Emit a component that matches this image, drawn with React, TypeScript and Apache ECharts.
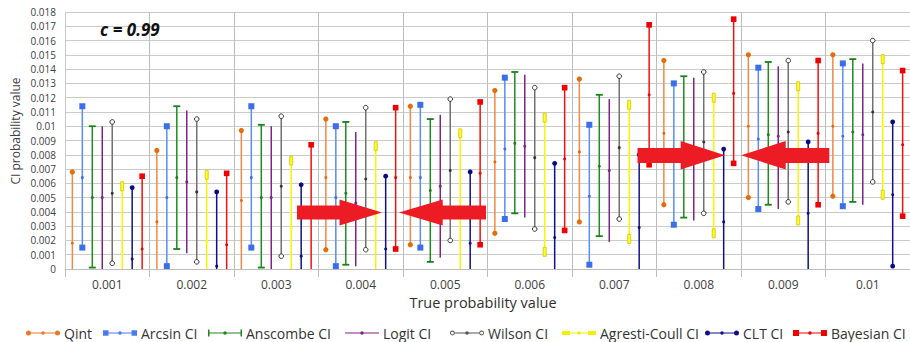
import React, { useEffect, useRef } from 'react';
import * as echarts from 'echarts';

// True probability values (x categories)
const categories = ['0.001', '0.002', '0.003', '0.004', '0.005', '0.006', '0.007', '0.008', '0.009', '0.01'];

// Each entry: [lower, estimate, upper]; null lower = interval extends below 0 (clipped at axis)
type Tri = [number | null, number, number];

const qint: Tri[] = [
  [null, 0.0018, 0.0068], [null, 0.0033, 0.0083], [null, 0.0048, 0.0097], [0.00135, 0.0064, 0.0105], [0.0017, 0.0064, 0.0114],
  [0.0025, 0.0075, 0.0125], [0.0033, 0.0082, 0.0133], [0.0045, 0.0095, 0.0146], [0.005, 0.01, 0.015], [0.0051, 0.01, 0.015],
];
const arcsin: Tri[] = [
  [0.0015, 0.0064, 0.0114], [0.0002, 0.005, 0.01], [0.0015, 0.0064, 0.0114], [0.0002, 0.005, 0.01], [0.0015, 0.0064, 0.0115],
  [0.0035, 0.0084, 0.0134], [0.0003, 0.0051, 0.0101], [0.0031, 0.008, 0.013], [0.0042, 0.0091, 0.0141], [0.0044, 0.0093, 0.0144],
];
const anscombe: Tri[] = [
  [0.0001, 0.005, 0.01], [0.0014, 0.0064, 0.0114], [0.0001, 0.005, 0.0101], [0.0003, 0.0053, 0.0103], [0.0005, 0.0055, 0.0105],
  [0.0039, 0.0088, 0.0138], [0.0023, 0.0072, 0.0122], [0.0036, 0.0086, 0.0135], [0.0045, 0.0094, 0.0145], [0.0047, 0.0096, 0.0147],
];
const logit: Tri[] = [
  [null, 0.005, 0.01], [0.0011, 0.0061, 0.0111], [null, 0.005, 0.01], [0.0002, 0.0046, 0.0096], [0.0008, 0.0058, 0.0108],
  [0.0036, 0.0086, 0.0136], [0.0019, 0.0069, 0.0119], [0.0034, 0.0084, 0.0134], [0.0042, 0.0093, 0.0142], [0.0045, 0.0094, 0.0144],
];
const wilson: Tri[] = [
  [0.0004, 0.0053, 0.0103], [0.0005, 0.0054, 0.0105], [0.0009, 0.0058, 0.0107], [0.00135, 0.0063, 0.0113], [0.002, 0.0069, 0.0119],
  [0.0028, 0.0078, 0.0127], [0.0035, 0.0085, 0.0135], [0.0039, 0.0089, 0.0138], [0.0047, 0.0096, 0.0146], [0.0061, 0.011, 0.016],
];
const agresti: Tri[] = [
  [null, 0.0011, 0.0058], [null, 0.0019, 0.0066], [null, 0.0028, 0.0076], [null, 0.0037, 0.0086], [null, 0.0048, 0.0095],
  [0.0012, 0.0059, 0.0106], [0.0021, 0.0068, 0.0115], [0.0025, 0.0073, 0.012], [0.0034, 0.0081, 0.0128], [0.0052, 0.01, 0.0147],
];
const clt: Tri[] = [
  [null, 0.0007, 0.0057], [null, 0.0002, 0.0054], [null, 0.0009, 0.0059], [null, 0.0014, 0.0065], [null, 0.0018, 0.0068],
  [null, 0.0022, 0.0074], [null, 0.0029, 0.008], [null, 0.0033, 0.0084], [null, 0.0039, 0.0089], [0.0002, 0.0052, 0.0103],
];
const bayesian: Tri[] = [
  [null, 0.0014, 0.0065], [null, 0.0017, 0.0067], [null, 0.0037, 0.0087], [0.0014, 0.0064, 0.0113], [0.0017, 0.0067, 0.0117],
  [0.0027, 0.0077, 0.0127], [0.0073, 0.0122, 0.0171], [0.0074, 0.0123, 0.0175], [0.0045, 0.0095, 0.0146], [0.0037, 0.0087, 0.0139],
];

const seriesNames = ['Qint', 'Arcsin CI', 'Anscombe CI', 'Logit CI', 'Wilson CI', 'Agresti-Coull CI', 'CLT CI', 'Bayesian CI'];
const seriesData = [qint, arcsin, anscombe, logit, wilson, agresti, clt, bayesian];

type Marker = 'circle' | 'square' | 'cap' | 'none' | 'hollow' | 'bar';
interface Sty { line: string; mark: string; marker: Marker; size: number; legendIcon: string; legendColor: string; }

const FONT = '"Open Sans", "Noto Sans", sans-serif';

// legend icon path helpers (34 x 8 box)
const circ = (cx: number, cy: number, r: number, sweep = 1) =>
  `M${cx - r} ${cy}A${r} ${r} 0 1 ${sweep} ${cx + r} ${cy}A${r} ${r} 0 1 ${sweep} ${cx - r} ${cy}Z`;
const rct = (x: number, y: number, w: number, h: number) => `M${x} ${y}L${x + w} ${y}L${x + w} ${y + h}L${x} ${y + h}Z`;
const lineSeg = (x0: number, x1: number) => rct(x0, 3.4, x1 - x0, 1.2);
const midDot = circ(17, 4, 1.8);

const icons = [
  'path://' + lineSeg(2, 32) + circ(2.5, 4, 2.5) + circ(31.5, 4, 2.5) + midDot,
  'path://' + lineSeg(2, 32) + rct(0, 1.25, 5.5, 5.5) + rct(28.5, 1.25, 5.5, 5.5) + midDot,
  'path://' + lineSeg(0, 34) + rct(0, 0.5, 1.5, 7) + rct(32.5, 0.5, 1.5, 7) + midDot,
  'path://' + lineSeg(0, 34) + midDot,
  'path://' + lineSeg(4.6, 29.4) + circ(2.4, 4, 2.4) + circ(2.4, 4, 1.5, 0) + circ(31.6, 4, 2.4) + circ(31.6, 4, 1.5, 0) + midDot,
  'path://' + lineSeg(4, 30) + rct(0, 2, 8, 4) + rct(26, 2, 8, 4) + midDot,
  'path://' + lineSeg(2, 32) + circ(2.5, 4, 2.5) + circ(31.5, 4, 2.5) + midDot,
  'path://' + lineSeg(2, 32) + rct(0, 1, 6, 6) + rct(28, 1, 6, 6) + midDot,
];

const styles: Sty[] = [
  { line: '#EE8A45', mark: '#E46C0A', marker: 'circle', size: 2.6, legendIcon: icons[0], legendColor: '#E8782A' },
  { line: '#5A8CF2', mark: '#3A6EEB', marker: 'square', size: 6, legendIcon: icons[1], legendColor: '#4A7CEE' },
  { line: '#208A20', mark: '#1A801A', marker: 'cap', size: 7, legendIcon: icons[2], legendColor: '#1E861E' },
  { line: '#7E2286', mark: '#7E2286', marker: 'none', size: 0, legendIcon: icons[3], legendColor: '#7E2286' },
  { line: '#707070', mark: '#333333', marker: 'hollow', size: 2.3, legendIcon: icons[4], legendColor: '#555555' },
  { line: '#F6F600', mark: '#FFFF20', marker: 'bar', size: 9, legendIcon: icons[5], legendColor: '#F2F000' },
  { line: '#10108C', mark: '#0A0A88', marker: 'circle', size: 2.4, legendIcon: icons[6], legendColor: '#10108C' },
  { line: '#F21010', mark: '#F00000', marker: 'square', size: 5.6, legendIcon: icons[7], legendColor: '#F00000' },
];

const legendLeft = [26, 103, 208, 345, 450, 562, 705, 793];

function endMarker(st: Sty, x: number, y: number): any {
  switch (st.marker) {
    case 'circle':
      return { type: 'circle', shape: { cx: x, cy: y, r: st.size }, style: { fill: st.mark } };
    case 'square':
      return { type: 'rect', shape: { x: x - st.size / 2, y: y - st.size / 2, width: st.size, height: st.size }, style: { fill: st.mark } };
    case 'cap':
      return { type: 'line', shape: { x1: x - st.size / 2, y1: y, x2: x + st.size / 2, y2: y }, style: { stroke: st.mark, lineWidth: 1.8 } };
    case 'hollow':
      return { type: 'circle', shape: { cx: x, cy: y, r: st.size }, style: { fill: '#ffffff', stroke: st.mark, lineWidth: 1 } };
    case 'bar':
      return { type: 'rect', shape: { x: x - 1.5, y: y - st.size / 2, width: 3, height: st.size }, style: { fill: st.mark, stroke: '#D6C400', lineWidth: 0.8 } };
    default:
      return null;
  }
}

function makeRender(j: number) {
  const st = styles[j];
  return (params: any, api: any) => {
    const ci = api.value(0);
    const lo = api.value(1);
    const mid = api.value(2);
    const up = api.value(3);
    const bw = api.size([1, 0])[0];
    const base = api.coord([ci, 0]);
    const x = base[0] + (j - 3.5) * bw * 0.118;
    const y0 = base[1];
    const hasLo = lo !== null && lo !== undefined && !isNaN(lo);
    const yLo = hasLo ? api.coord([ci, lo])[1] : y0;
    const yMid = api.coord([ci, mid])[1];
    const yUp = api.coord([ci, up])[1];
    const children: any[] = [
      { type: 'line', shape: { x1: x, y1: yLo, x2: x, y2: yUp }, style: { stroke: st.line, lineWidth: 1.5 } },
    ];
    const mu = endMarker(st, x, yUp);
    if (mu) children.push(mu);
    if (hasLo) {
      const ml = endMarker(st, x, yLo);
      if (ml) children.push(ml);
    }
    children.push({ type: 'circle', shape: { cx: x, cy: yMid, r: 1.5 }, style: { fill: st.mark } });
    return { type: 'group', children };
  };
}

function arrow(pts: number[][]) {
  return { type: 'polygon', z: 100, shape: { points: pts }, style: { fill: '#ED1C24' } };
}

export default function App() {
  const ref = useRef<HTMLDivElement>(null);
  useEffect(() => {
    if (!ref.current) return;
    const chart = echarts.init(ref.current, undefined, { renderer: 'svg' });
    const series = seriesNames.map((name, j) => ({
      type: 'custom',
      name,
      renderItem: makeRender(j),
      encode: { x: 0, y: [1, 2, 3] },
      itemStyle: { color: styles[j].legendColor },
      data: seriesData[j].map((t, i) => [i, t[0] === null ? '-' : t[0], t[1], t[2]]),
      clip: true,
    }));
    const legends = seriesNames.map((name, j) => ({
      data: [{ name, icon: styles[j].legendIcon }],
      left: legendLeft[j],
      top: 326,
      padding: 0,
      itemWidth: 34,
      itemHeight: 8,
      selectedMode: false,
      textStyle: { fontFamily: FONT, fontSize: 14, color: '#333333', padding: [0, 0, 0, -1] },
    }));
    chart.setOption({
      animation: false,
      backgroundColor: '#ffffff',
      grid: { left: 65, right: -3, top: 12, bottom: 73 },
      legend: legends,
      xAxis: {
        type: 'category',
        data: categories,
        boundaryGap: true,
        axisLine: { show: true, lineStyle: { color: '#BDBDBD', width: 1 } },
        axisTick: { show: true, interval: 0, length: 8, lineStyle: { color: '#BDBDBD' } },
        splitLine: { show: true, interval: 0, lineStyle: { color: '#BDBDBD', width: 1 } },
        axisLabel: { fontFamily: FONT, fontSize: 12, color: '#404040', margin: 9 },
      },
      yAxis: {
        type: 'value',
        min: 0,
        max: 0.018,
        interval: 0.001,
        axisLine: { show: true, lineStyle: { color: '#C8C8C8' } },
        axisTick: { show: false },
        splitLine: { show: true, lineStyle: { color: '#CACACA', width: 1 } },
        axisLabel: {
          fontFamily: FONT, fontSize: 10, color: '#404040', margin: 9,
          formatter: (v: number) => String(parseFloat(v.toFixed(3))),
        },
      },
      graphic: [
        { type: 'text', z: 100, left: 100, top: 21, style: { text: 'c = 0.99', fontFamily: FONT, fontSize: 17, fontWeight: 'bold', fontStyle: 'italic', fill: '#111111' } },
        { type: 'text', z: 100, x: 15, y: 131, rotation: Math.PI / 2, style: { text: 'CI probability value', fontFamily: FONT, fontSize: 12, fill: '#404040', align: 'center', verticalAlign: 'middle' } },
        { type: 'text', z: 100, x: 483, y: 302, style: { text: 'True probability value', fontFamily: FONT, fontSize: 14.5, fill: '#303030', align: 'center', verticalAlign: 'middle' } },
        arrow([[297, 205.5], [339.5, 205.5], [339.5, 199.5], [382, 212.5], [339.5, 225.5], [339.5, 219.5], [297, 219.5]]),
        arrow([[486, 205.5], [442.7, 205.5], [442.7, 199.5], [399, 212.5], [442.7, 225.5], [442.7, 219.5], [486, 219.5]]),
        arrow([[637.5, 148], [680.7, 148], [680.7, 141], [725, 155.3], [680.7, 169.5], [680.7, 163], [637.5, 163]]),
        arrow([[829.3, 148], [785.7, 148], [785.7, 141], [741, 155.3], [785.7, 169.5], [785.7, 163], [829.3, 163]]),
      ],
      series,
    });
    return () => chart.dispose();
  }, []);
  return <div ref={ref} style={{ position: 'fixed', left: 0, top: 0, width: 910, height: 342 }} />;
}
